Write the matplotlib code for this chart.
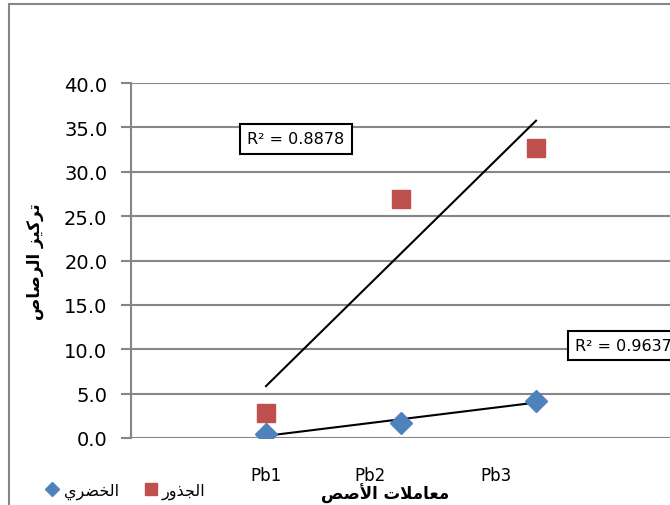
import numpy as np
import matplotlib.pyplot as plt
from matplotlib.lines import Line2D
from matplotlib.patches import Rectangle

# --- shaping arabe minimal (formes de presentation) ---
FORMS = {
    'ا': ('\uFE8D', '\uFE8E', None, None),
    'أ': ('\uFE83', '\uFE84', None, None),
    'ت': ('\uFE95', '\uFE96', '\uFE97', '\uFE98'),
    'ج': ('\uFE9D', '\uFE9E', '\uFE9F', '\uFEA0'),
    'خ': ('\uFEA5', '\uFEA6', '\uFEA7', '\uFEA8'),
    'ذ': ('\uFEAB', '\uFEAC', None, None),
    'ر': ('\uFEAD', '\uFEAE', None, None),
    'ز': ('\uFEAF', '\uFEB0', None, None),
    'ص': ('\uFEB9', '\uFEBA', '\uFEBB', '\uFEBC'),
    'ض': ('\uFEBD', '\uFEBE', '\uFEBF', '\uFEC0'),
    'ع': ('\uFEC9', '\uFECA', '\uFECB', '\uFECC'),
    'ك': ('\uFED9', '\uFEDA', '\uFEDB', '\uFEDC'),
    'ل': ('\uFEDD', '\uFEDE', '\uFEDF', '\uFEE0'),
    'م': ('\uFEE1', '\uFEE2', '\uFEE3', '\uFEE4'),
    'و': ('\uFEED', '\uFEEE', None, None),
    'ي': ('\uFEF1', '\uFEF2', '\uFEF3', '\uFEF4'),
}
LAM_ALEF = {'ا': ('\uFEFB', '\uFEFC'), 'أ': ('\uFEF7', '\uFEF8')}


def dual(c):
    return c in FORMS and FORMS[c][2] is not None


def shape(text):
    out = []
    i = 0
    while i < len(text):
        c = text[i]
        if c not in FORMS:
            out.append(c)
            i += 1
            continue
        prev = text[i - 1] if i > 0 else ''
        joined_prev = dual(prev)
        nxt = text[i + 1] if i + 1 < len(text) else ''
        if c == 'ل' and nxt in LAM_ALEF:
            out.append(LAM_ALEF[nxt][1 if joined_prev else 0])
            i += 2
            continue
        joins_next = dual(c) and nxt in FORMS
        f = FORMS[c]
        if joined_prev and joins_next:
            out.append(f[3])
        elif joined_prev:
            out.append(f[1])
        elif joins_next:
            out.append(f[2])
        else:
            out.append(f[0])
        i += 1
    return ''.join(out)[::-1]


# --- donnees ---
x_pos = [1, 2, 3]
khodari = [0.45, 1.7, 4.2]
jodhour = [2.8, 26.9, 32.7]
xtick_pos = [1.0, 1.77, 2.70]
xtick_labels = ['Pb1', 'Pb2', 'Pb3']
r2_labels = ['R² = 0.8878', 'R² = 0.9637']

blue = '#4F81BD'
red = '#C0504D'
gray = '#868686'

fig = plt.figure(figsize=(6.7, 5.06), dpi=100)
ax = fig.add_axes([131 / 670, 67 / 506, 540 / 670, 355 / 506])

ax.plot(x_pos, khodari, 'D', color=blue, markersize=11.5, zorder=3)
ax.plot(x_pos, jodhour, 's', color=red, markersize=13.5, zorder=3)

# courbes de tendance lineaires
xs = np.array(x_pos, dtype=float)
for ys in (jodhour, khodari):
    a, b = np.polyfit(xs, ys, 1)
    ax.plot([xs[0], xs[-1]], [a * xs[0] + b, a * xs[-1] + b], color='black', lw=1.5, zorder=2)

ax.set_xlim(0, 4)
ax.set_ylim(0, 40)
ax.set_yticks(np.arange(0, 41, 5))
ax.set_yticklabels([f'{v:.1f}' for v in np.arange(0, 41, 5)], fontsize=14)
ax.set_xticks(xtick_pos)
ax.set_xticklabels(xtick_labels, fontsize=12)
ax.tick_params(axis='x', length=0, pad=20)
ax.tick_params(axis='y', length=7, color=gray, width=1.5, pad=10)
ax.grid(axis='y', color=gray, lw=1.5)
ax.set_axisbelow(True)
for s in ('top', 'right', 'bottom'):
    ax.spines[s].set_visible(False)
ax.spines['left'].set_color(gray)
ax.spines['left'].set_linewidth(1.5)

box = dict(boxstyle='square,pad=0.45', fc='white', ec='black', lw=1.5)
ax.text(1.222, 33.7, r2_labels[0], fontsize=11.5, ha='center', va='center', bbox=box, zorder=4)
ax.text(3.29, 10.4, r2_labels[1], fontsize=11.5, ha='left', va='center', bbox=box, zorder=4)

fig.text(385 / 670, 1 - 494 / 506, shape('معاملات الأصص'), fontsize=12, fontweight='bold',
         ha='center', va='center', family='DejaVu Sans')
fig.text(35 / 670, 1 - 262 / 506, shape('تركيز الرصاص'), fontsize=12, fontweight='bold',
         ha='center', va='center', rotation=90, family='DejaVu Sans')

handles = [Line2D([], [], ls='', marker='D', color=blue, markersize=7),
           Line2D([], [], ls='', marker='s', color=red, markersize=8)]
fig.legend(handles, [shape('الخضري'), shape('الجذور')], loc='center left',
           bbox_to_anchor=(38 / 670, 1 - 492 / 506), ncol=2, frameon=False, fontsize=11.5,
           handlelength=0.8, handletextpad=0.3, columnspacing=1.6, borderpad=0)

# cadre exterieur du graphique
fig.patches.append(Rectangle((9 / 670, -0.1), 1.2, 1 - 5 / 506 + 0.1, transform=fig.transFigure,
                             fill=False, ec=gray, lw=1.5))

fig.savefig('out.png', dpi=100)
